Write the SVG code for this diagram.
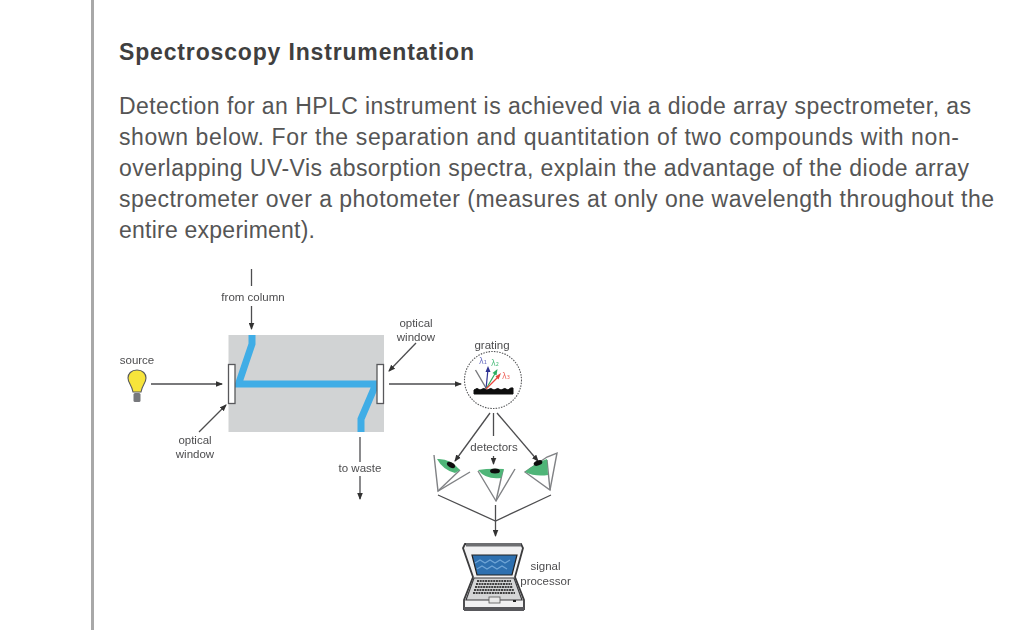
<svg xmlns="http://www.w3.org/2000/svg" width="1024" height="630" viewBox="0 0 1024 630">
<defs>
<style>
.body{font:23px "Liberation Sans",Arial,sans-serif;fill:#555}
.title{font:bold 23px "Liberation Sans",Arial,sans-serif;fill:#3f3f3f}
.lab{font:11.500px "Liberation Sans",Arial,sans-serif;fill:#4d4d4f;text-anchor:middle}
.ln{stroke:#4d4d4f;stroke-width:1.300;fill:none}
.la{stroke:#4d4d4f;stroke-width:1.300;fill:none;marker-end:url(#ah)}
.eye{fill:#4fb578}
.cone{fill:#fff;stroke:#808285;stroke-width:1.400;stroke-linejoin:miter}
</style>
<marker id="ah" markerWidth="7" markerHeight="6" refX="6" refY="3" orient="auto" markerUnits="userSpaceOnUse"><path d="M0,0.200L7,3L0,5.800Z" fill="#333"/></marker>
<filter id="soft" x="-5%" y="-5%" width="110%" height="110%"><feGaussianBlur stdDeviation="0.600"/></filter>
</defs>
<rect width="1024" height="630" fill="#fff"/>
<rect x="91" y="0" width="3" height="630" fill="#a8a8a8"/>
<text class="title" x="119" y="60" textLength="355">Spectroscopy Instrumentation</text>
<g id="question">
<text class="body" x="119" y="114" textLength="852">Detection for an HPLC instrument is achieved via a diode array spectrometer, as</text>
<text class="body" x="119" y="145" textLength="840">shown below. For the separation and quantitation of two compounds with non-</text>
<text class="body" x="119" y="176" textLength="850">overlapping UV-Vis absorption spectra, explain the advantage of the diode array</text>
<text class="body" x="119" y="207" textLength="875">spectrometer over a photometer (measures at only one wavelength throughout the</text>
<text class="body" x="119" y="238" textLength="196">entire experiment).</text>
</g>
<g filter="url(#soft)">
<g id="flow-cell">
<rect x="228.500" y="335" width="155.500" height="97" fill="#d1d3d4"/>
<path d="M252,335V344L238.500,384H376L361,419V432" fill="none" stroke="#41ade6" stroke-width="7"/>
<rect x="228.500" y="364.500" width="6.500" height="39" fill="#fff" stroke="#58595b" stroke-width="1.300"/>
<rect x="377" y="364.500" width="6.500" height="39" fill="#fff" stroke="#58595b" stroke-width="1.300"/>
</g>
<g id="source">
<path d="M137,370C131,370 128,374 128,378C128,383 132,385 133,392H141C142,385 146,383 146,378C146,374 143,370 137,370Z" fill="#f7e43a" stroke="#58595b" stroke-width="1.100"/>
<rect x="133.500" y="393" width="7" height="9" rx="1.500" fill="#77787b"/>
<text class="lab" x="137" y="364">source</text>
</g>
<g id="connectors">
<path class="ln" d="M251.500,269V286"/>
<path class="la" d="M251.500,306V329"/>
<path class="la" d="M151,384H222"/>
<path class="la" d="M199,432L226,405"/>
<path class="la" d="M416,343L389,371"/>
<path class="la" d="M389,384H461"/>
<path class="ln" d="M360,437V462"/>
<path class="la" d="M360,476V499"/>
<path class="la" d="M490,413L455,461"/>
<path class="ln" d="M493.500,413V436"/>
<path class="la" d="M493.500,456V464"/>
<path class="la" d="M497,413L538,461"/>
<path class="ln" d="M438,495L495.500,521L551,495"/>
<path class="la" d="M495.500,505V536"/>
</g>
<g id="labels">
<text class="lab" x="253" y="301">from column</text>
<text class="lab" x="195" y="444">optical</text>
<text class="lab" x="195" y="458">window</text>
<text class="lab" x="416" y="327">optical</text>
<text class="lab" x="416" y="341">window</text>
<text class="lab" x="360" y="472">to waste</text>
<text class="lab" x="492" y="349">grating</text>
<text class="lab" x="494" y="451">detectors</text>
<text class="lab" x="545.500" y="570">signal</text>
<text class="lab" x="545.500" y="585">processor</text>
</g>
<g id="grating">
<circle cx="493" cy="380" r="28.500" fill="#fff" stroke="#58595b" stroke-width="1.100" stroke-dasharray="1.500,1.200"/>
<path d="M474,394V390Q477,387 480,390Q484,387 487,390Q491,387 494,390Q498,387 501,390Q505,387 508,390Q511,387 513,388V394Z" fill="#111" stroke="#111"/>
<path d="M475.500,370L486,388" stroke="#77787b" stroke-width="1.400" fill="none"/>
<path d="M486,389L488,369" stroke="#2e3192" stroke-width="1.200"/><path d="M488,366L485.500,372H490.500Z" fill="#2e3192"/>
<path d="M486,389L496,372" stroke="#2fae62" stroke-width="1.200"/><path d="M497.500,369L492.500,373L496.500,375.500Z" fill="#2fae62"/>
<path d="M486,389L499,376" stroke="#e8453c" stroke-width="1.200"/><path d="M501,373L495.500,376.500L498.500,379.500Z" fill="#e8453c"/>
<text x="479" y="364" font-family="'DejaVu Sans',sans-serif" font-size="8" fill="#6a6fc0">λ₁</text>
<text x="491" y="366" font-family="'DejaVu Sans',sans-serif" font-size="8" fill="#52bf80">λ₂</text>
<text x="502" y="379" font-family="'DejaVu Sans',sans-serif" font-size="8" fill="#ef6a62">λ₃</text>
</g>
<g id="detector-left">
<path class="cone" d="M434,455L438,491L470,472"/>
<path class="cone" d="M438,491L460,470" fill="none"/>
<path class="eye" d="M437,459Q450,458 460,470L455,473Q443,470 437,459Z"/>
<ellipse cx="451" cy="465" rx="4.500" ry="2.500" fill="#111" transform="rotate(30 451 465)"/>
</g>
<g id="detector-middle">
<path class="cone" d="M478,471L496,501L515,469"/>
<path class="cone" d="M496,501L503,470" fill="none"/>
<path class="eye" d="M478,470Q490,468 504,469L501,478Q486,480 478,470Z"/>
<ellipse cx="495" cy="471" rx="5" ry="2.500" fill="#111"/>
</g>
<g id="detector-right">
<path class="cone" d="M525,472L550,490L557,453L547,457Z"/>
<path class="cone" d="M550,490L547,460" fill="none"/>
<path class="eye" d="M525,472Q535,463 547,459L548,475Q535,477 525,472Z"/>
<ellipse cx="538" cy="463" rx="4.500" ry="2.500" fill="#111" transform="rotate(-20 538 463)"/>
</g>
<g id="laptop">
<path d="M465,544H521L523,548L515,577L524,600V609H464V600L473,577L463,548Z" fill="#f1f1f2" stroke="#3b3b3d" stroke-width="1.800"/>
<rect x="466" y="543" width="55" height="3.500" fill="#6d6e71"/>
<rect x="464" y="607" width="60" height="4" fill="#58595b"/>
<path d="M472,555H517L512,575H477Z" fill="#2f6fb0" stroke="#222" stroke-width="1.200"/>
<path d="M475,563l5,-3 5,3 5,-3 5,3 5,-3 5,3 5,-3M477,569l5,-3 5,3 5,-3 5,3 5,-3 5,3" fill="none" stroke="#6fa5d6" stroke-width="1.200"/>
<path d="M474,578H514L522,600H466Z" fill="#d4d5d6" stroke="#3b3b3d" stroke-width="1.200"/>
<path d="M477,581H511M476,584H512M475,587H513M474,590H514M473,593H515" stroke="#3f3f41" stroke-width="2" stroke-dasharray="2,.7"/>
<rect x="489" y="597" width="11" height="6" fill="#e8e8e8" stroke="#555" stroke-width=".8"/>
<rect x="513" y="600" width="3" height="2" fill="#222"/>
</g>
</g>
</svg>
